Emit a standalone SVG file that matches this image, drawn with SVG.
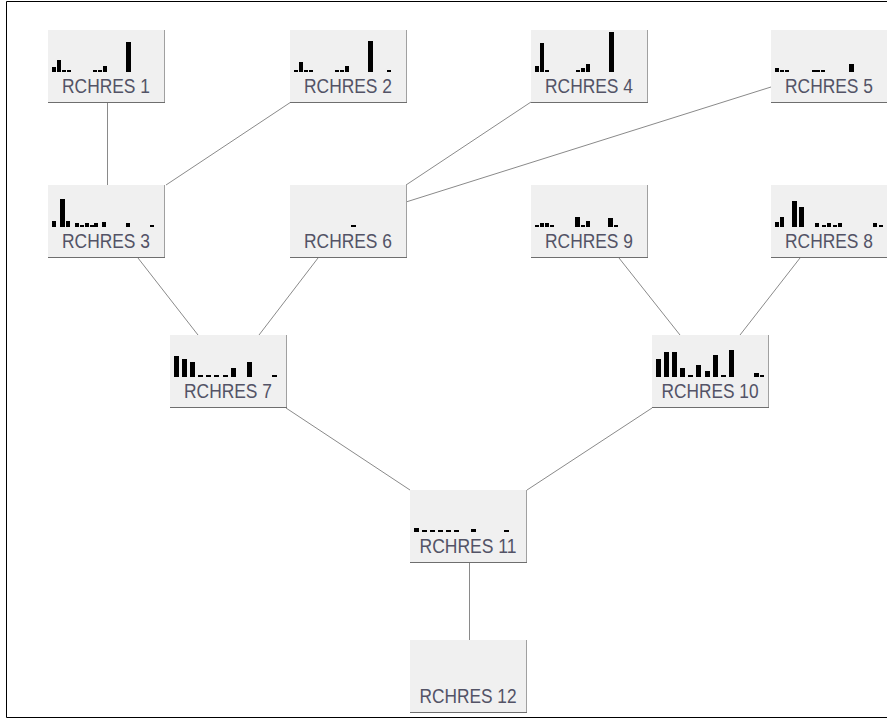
<svg xmlns="http://www.w3.org/2000/svg" width="887" height="719" viewBox="0 0 887 719">
<style>
.bg{fill:#ffffff}
.frame{fill:none;stroke:#000;stroke-width:1}
.box{fill:#f0f0f0}
.shr{fill:none;stroke:#a0a0a0;stroke-width:1}
.shb{fill:none;stroke:#6e6e6e;stroke-width:1}
.bars rect{fill:#000}
.lbl{font-family:"Liberation Sans",Arial,sans-serif;font-size:20px;fill:#535366;text-anchor:middle}
.conn line{stroke:#8a8a8a;stroke-width:1}
</style>
<defs>
<g id="nodebg">
<rect class="box" x="0" y="0" width="117" height="73"/>
<path class="shr" d="M116.5,0 V73"/>
<path class="shb" d="M0,72.5 H117"/>
</g>
</defs>
<rect class="bg" x="0" y="0" width="887" height="719"/>
<path class="frame" d="M887,1.5 H6.5 V717.5 H887"/>
<g id="connectors" class="conn">
<line x1="107.5" y1="103" x2="107.5" y2="185"/>
<line x1="291" y1="102" x2="166" y2="185"/>
<line x1="531" y1="102" x2="406" y2="185"/>
<line x1="771" y1="87" x2="406" y2="202"/>
<line x1="138" y1="258" x2="198" y2="335"/>
<line x1="318" y1="258" x2="259" y2="335"/>
<line x1="619" y1="258" x2="680" y2="335"/>
<line x1="800" y1="258" x2="740" y2="335"/>
<line x1="286" y1="408" x2="410" y2="490"/>
<line x1="652" y1="408" x2="527" y2="490"/>
<line x1="469.5" y1="563" x2="469.5" y2="640"/>
</g>
<g id="rchres1" transform="translate(48,30)">
<use href="#nodebg"/>
<g class="bars"><rect x="4" y="37" width="4" height="5"/><rect x="9" y="30" width="4" height="12"/><rect x="14" y="40" width="4" height="2"/><rect x="19" y="40" width="4" height="2"/><rect x="45" y="40" width="4" height="2"/><rect x="50" y="40" width="4" height="2"/><rect x="55" y="36" width="4" height="6"/><rect x="78" y="12" width="5" height="30"/></g>
<text class="lbl" x="58" y="63" textLength="88" lengthAdjust="spacingAndGlyphs">RCHRES 1</text>
</g>
<g id="rchres2" transform="translate(290,30)">
<use href="#nodebg"/>
<g class="bars"><rect x="4" y="40" width="4" height="2"/><rect x="9" y="32" width="4" height="10"/><rect x="14" y="40" width="4" height="2"/><rect x="19" y="40" width="4" height="2"/><rect x="45" y="40" width="4" height="2"/><rect x="50" y="40" width="4" height="2"/><rect x="55" y="36" width="4" height="6"/><rect x="78" y="11" width="5" height="31"/><rect x="97" y="40" width="4" height="2"/></g>
<text class="lbl" x="58" y="63" textLength="88" lengthAdjust="spacingAndGlyphs">RCHRES 2</text>
</g>
<g id="rchres4" transform="translate(531,30)">
<use href="#nodebg"/>
<g class="bars"><rect x="4" y="36" width="4" height="6"/><rect x="9" y="13" width="4" height="29"/><rect x="14" y="40" width="4" height="2"/><rect x="45" y="40" width="4" height="2"/><rect x="50" y="38" width="4" height="4"/><rect x="55" y="34" width="4" height="8"/><rect x="78" y="2" width="5" height="40"/></g>
<text class="lbl" x="58" y="63" textLength="88" lengthAdjust="spacingAndGlyphs">RCHRES 4</text>
</g>
<g id="rchres5" transform="translate(771,30)">
<use href="#nodebg"/>
<g class="bars"><rect x="4" y="38" width="4" height="4"/><rect x="9" y="40" width="4" height="2"/><rect x="14" y="40" width="4" height="2"/><rect x="41" y="40" width="4" height="2"/><rect x="45" y="40" width="4" height="2"/><rect x="50" y="40" width="4" height="2"/><rect x="78" y="34" width="5" height="8"/></g>
<text class="lbl" x="58" y="63" textLength="88" lengthAdjust="spacingAndGlyphs">RCHRES 5</text>
</g>
<g id="rchres3" transform="translate(48,185)">
<use href="#nodebg"/>
<g class="bars"><rect x="4" y="36" width="4" height="6"/><rect x="12" y="14" width="5" height="28"/><rect x="18" y="36" width="4" height="6"/><rect x="27" y="38" width="4" height="4"/><rect x="32" y="40" width="4" height="2"/><rect x="37" y="38" width="4" height="4"/><rect x="42" y="40" width="4" height="2"/><rect x="46" y="38" width="4" height="4"/><rect x="54" y="37" width="4" height="5"/><rect x="78" y="38" width="4" height="4"/><rect x="102" y="40" width="4" height="2"/></g>
<text class="lbl" x="58" y="63" textLength="88" lengthAdjust="spacingAndGlyphs">RCHRES 3</text>
</g>
<g id="rchres6" transform="translate(290,185)">
<use href="#nodebg"/>
<g class="bars"><rect x="61" y="40" width="5" height="2"/></g>
<text class="lbl" x="58" y="63" textLength="88" lengthAdjust="spacingAndGlyphs">RCHRES 6</text>
</g>
<g id="rchres9" transform="translate(531,185)">
<use href="#nodebg"/>
<g class="bars"><rect x="4" y="40" width="4" height="2"/><rect x="9" y="38" width="4" height="4"/><rect x="14" y="38" width="4" height="4"/><rect x="19" y="40" width="4" height="2"/><rect x="44" y="32" width="5" height="10"/><rect x="50" y="40" width="4" height="2"/><rect x="55" y="36" width="4" height="6"/><rect x="77" y="33" width="5" height="9"/><rect x="83" y="40" width="4" height="2"/></g>
<text class="lbl" x="58" y="63" textLength="88" lengthAdjust="spacingAndGlyphs">RCHRES 9</text>
</g>
<g id="rchres8" transform="translate(771,185)">
<use href="#nodebg"/>
<g class="bars"><rect x="4" y="37" width="4" height="5"/><rect x="9" y="32" width="4" height="10"/><rect x="21" y="16" width="5" height="26"/><rect x="28" y="22" width="5" height="20"/><rect x="44" y="38" width="4" height="4"/><rect x="51" y="40" width="4" height="2"/><rect x="56" y="38" width="4" height="4"/><rect x="62" y="40" width="4" height="2"/><rect x="67" y="38" width="4" height="4"/><rect x="102" y="38" width="4" height="4"/><rect x="108" y="40" width="4" height="2"/></g>
<text class="lbl" x="58" y="63" textLength="88" lengthAdjust="spacingAndGlyphs">RCHRES 8</text>
</g>
<g id="rchres7" transform="translate(170,335)">
<use href="#nodebg"/>
<g class="bars"><rect x="4" y="21" width="5" height="21"/><rect x="12" y="24" width="5" height="18"/><rect x="20" y="27" width="5" height="15"/><rect x="28" y="40" width="5" height="2"/><rect x="36" y="40" width="5" height="2"/><rect x="44" y="40" width="5" height="2"/><rect x="53" y="40" width="5" height="2"/><rect x="61" y="33" width="5" height="9"/><rect x="77" y="27" width="5" height="15"/><rect x="102" y="40" width="5" height="2"/></g>
<text class="lbl" x="58" y="63" textLength="88" lengthAdjust="spacingAndGlyphs">RCHRES 7</text>
</g>
<g id="rchres10" transform="translate(652,335)">
<use href="#nodebg"/>
<g class="bars"><rect x="4" y="24" width="5" height="18"/><rect x="12" y="17" width="5" height="25"/><rect x="20" y="17" width="5" height="25"/><rect x="28" y="33" width="5" height="9"/><rect x="36" y="40" width="5" height="2"/><rect x="44" y="30" width="5" height="12"/><rect x="53" y="36" width="5" height="6"/><rect x="61" y="20" width="5" height="22"/><rect x="69" y="40" width="5" height="2"/><rect x="77" y="15" width="5" height="27"/><rect x="102" y="38" width="5" height="4"/><rect x="108" y="40" width="4" height="2"/></g>
<text class="lbl" x="58" y="63" textLength="97" lengthAdjust="spacingAndGlyphs">RCHRES 10</text>
</g>
<g id="rchres11" transform="translate(410,490)">
<use href="#nodebg"/>
<g class="bars"><rect x="4" y="38" width="5" height="4"/><rect x="12" y="40" width="5" height="2"/><rect x="20" y="40" width="5" height="2"/><rect x="28" y="40" width="5" height="2"/><rect x="36" y="40" width="5" height="2"/><rect x="44" y="40" width="5" height="2"/><rect x="61" y="39" width="5" height="3"/><rect x="94" y="40" width="5" height="2"/></g>
<text class="lbl" x="58" y="63" textLength="97" lengthAdjust="spacingAndGlyphs">RCHRES 11</text>
</g>
<g id="rchres12" transform="translate(410,640)">
<use href="#nodebg"/>
<text class="lbl" x="58" y="63" textLength="97" lengthAdjust="spacingAndGlyphs">RCHRES 12</text>
</g>
</svg>
